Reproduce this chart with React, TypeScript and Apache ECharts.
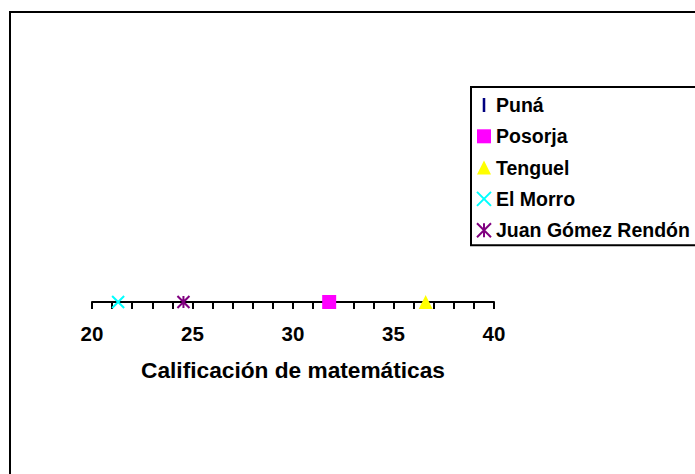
import React, { useEffect, useRef } from "react";
import * as echarts from "echarts";

const seriesNames = ["Puná", "Posorja", "Tenguel", "El Morro", "Juan Gómez Rendón"];
const scores = [31.8, 31.8, 36.6, 21.3, 24.55];
const tickLabels = [20, 25, 30, 35, 40];
const axisTitle = "Calificación de matemáticas";

const FONT = 'Arial, "Liberation Sans", sans-serif';

const symbols = [
  "path://M0 0 H2 V11 H0 Z",
  "rect",
  "triangle",
  "path://M0 0 L10 10 M10 0 L0 10",
  "path://M0 0 L10 10 M10 0 L0 10 M5 0 L5 10",
];
const colors = ["#000080", "#FF00FF", "#FFFF00", "#00FFFF", "#800080"];
const sizes: any[] = [[2, 11], 14, 14, 12, 12];
const stroked = [false, false, false, true, true];

export default function App() {
  const ref = useRef<HTMLDivElement>(null);
  useEffect(() => {
    if (!ref.current) return;
    const chart = echarts.init(ref.current, undefined, { renderer: "svg" });
    const series = seriesNames.map((name, i) => ({
      name,
      type: "scatter",
      data: [[scores[i], 0]],
      symbol: symbols[i],
      symbolSize: sizes[i],
      symbolKeepAspect: true,
      clip: false,
      z: 3 + i,
      itemStyle: stroked[i]
        ? { color: "rgba(0,0,0,0)", borderColor: colors[i], borderWidth: 2, opacity: 1 }
        : { color: colors[i], borderWidth: 0, opacity: 1 },
      emphasis: { disabled: true },
    }));
    chart.setOption({
      animation: false,
      backgroundColor: "#fff",
      graphic: [
        {
          type: "rect",
          shape: { x: 10, y: 12, width: 800, height: 600 },
          style: { fill: "none", stroke: "#000", lineWidth: 2 },
          silent: true,
        },
      ],
      grid: { left: 92, right: 201, top: 120, bottom: 172, containLabel: false },
      xAxis: {
        type: "value",
        min: 20,
        max: 40,
        interval: 1,
        name: axisTitle,
        nameLocation: "middle",
        nameGap: 56,
        nameTextStyle: { fontFamily: FONT, fontWeight: "bold", fontSize: 22.7, color: "#000" },
        axisLine: { show: true, lineStyle: { color: "#000", width: 2 } },
        axisTick: { show: true, length: 7, lineStyle: { color: "#000", width: 2 } },
        splitLine: { show: false },
        axisLabel: {
          fontFamily: FONT,
          fontWeight: "bold",
          fontSize: 20.5,
          color: "#000",
          margin: 21,
          formatter: (v: number) => (tickLabels.includes(v) ? String(v) : ""),
        },
      },
      yAxis: { type: "value", min: 0, max: 1, show: false },
      legend: {
        orient: "vertical",
        left: 471,
        top: 87,
        padding: [8, 40, 5, 5],
        itemGap: 11.3,
        itemWidth: 14,
        itemHeight: 14,
        borderColor: "#000",
        borderWidth: 2,
        backgroundColor: "#fff",
        textStyle: { fontFamily: FONT, fontWeight: "bold", fontSize: 19.5, color: "#000", lineHeight: 20 },
        data: seriesNames,
      },
      series,
    });
    return () => chart.dispose();
  }, []);
  return (
    <div
      ref={ref}
      style={{ position: "absolute", left: 0, top: 0, width: 695, height: 474 }}
    />
  );
}
